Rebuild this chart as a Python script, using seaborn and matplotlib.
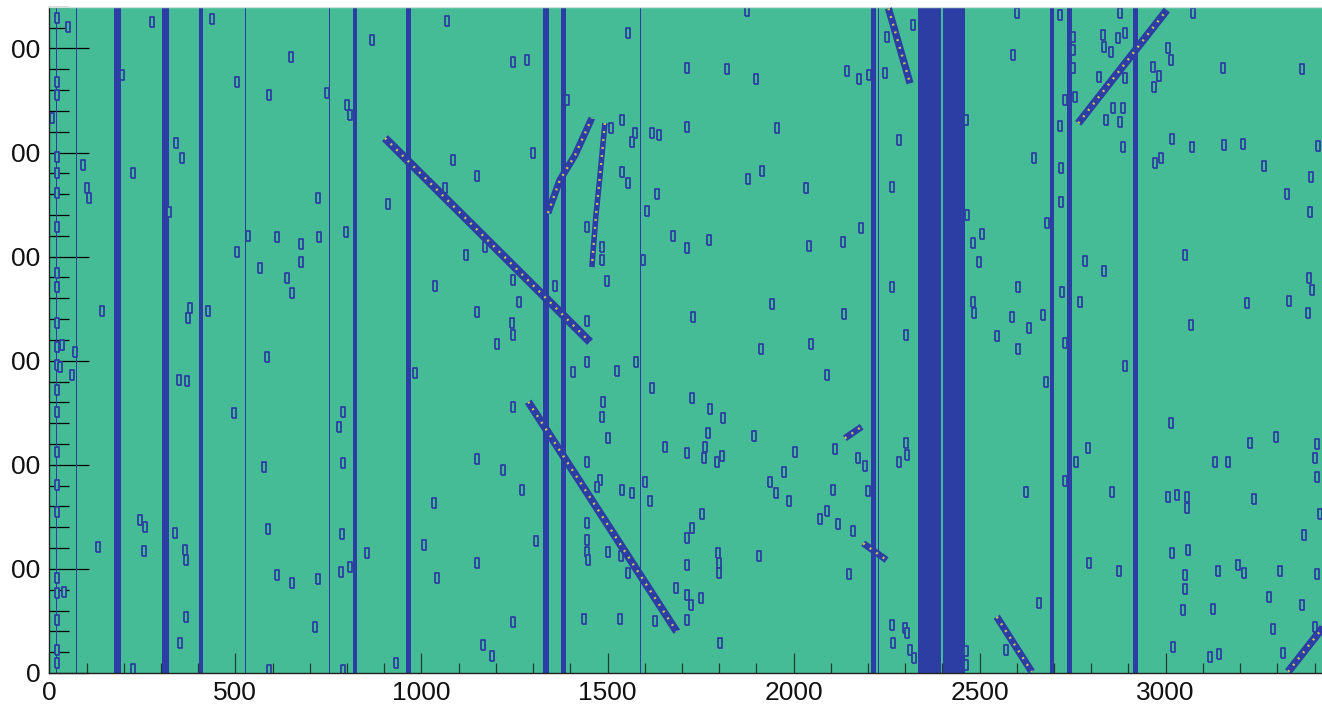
import matplotlib
matplotlib.use("Agg")
import matplotlib.pyplot as plt
from matplotlib.markers import MarkerStyle
from matplotlib.ticker import MultipleLocator, FixedLocator, FixedFormatter
import seaborn as sns

# ---------------- event display data (wire, time tick) ----------------
wire_max = 3456
tick_max = 6400

x_ticks = [0, 500, 1000, 1500, 2000, 2500, 3000]
x_labels = ["0", "500", "1000", "1500", "2000", "2500", "3000"]
y_ticks = [0, 1000, 2000, 3000, 4000, 5000, 6000]
y_labels = ["0", "00", "00", "00", "00", "00", "00"]

# dead / noisy wire ranges (first wire, last wire)
band_lo = [19, 71, 174, 304, 401, 525, 752, 817, 958, 1327, 1374, 1587,
           2207, 2226, 2334, 2401, 2689, 2734, 2911]
band_hi = [22, 74, 192, 321, 414, 528, 755, 828, 971, 1343, 1388, 1590,
           2221, 2229, 2395, 2461, 2700, 2747, 2926]

# hits on the noisy wire
noisy_wire = 20
noisy_ticks = [6292, 5677, 5552, 4957, 4803, 4611, 4284, 3842, 3708, 3362,
               3134, 2959, 2718, 2510, 2126, 1806, 1549, 910, 766, 509, 221, 93]

# isolated hits
hit_wire = [
    51, 275, 436, 195, 504, 649, 591, 747, 801, 808, 866, 1068, 340, 356, 90,
    226, 102, 107, 322, 723, 911, 1084, 1063, 535, 504, 611, 676, 726, 797,
    566, 676, 640, 652, 1036, 141, 378, 374, 427, 6,
    35, 68, 29, 61, 584, 349, 369, 983, 497, 790, 778, 578, 788, 1035, 244,
    257, 338, 132, 255, 365, 366, 588, 787, 853, 1008, 1041, 611, 652, 721,
    784, 808, 40, 366, 351, 714, 226, 591, 788, 932,
    1247, 1284, 1556, 1876, 1714, 1820, 1898, 2144, 2175, 2204, 2246, 2250,
    1390, 1301, 1150, 1538, 1509, 1574, 1567, 1620, 1639, 1714, 1955, 1538,
    1556, 1632, 1605, 1878, 1914, 2033, 1677, 1714, 1774, 2042, 2134, 2181,
    1484, 1484, 1444, 1596, 1499, 1120, 1171, 1247, 1359, 1262, 1149, 1244,
    1247, 1444, 1729, 1941, 2136,
    1202, 1444, 1408, 1526, 1577, 1619, 1912, 2047, 2089, 1726, 1775, 1811,
    1247, 1489, 1486, 1502, 1771, 1894, 1655, 1714, 1762, 1759, 1793, 1807,
    2004, 2111, 2174, 2192, 1975, 1937, 1953, 1989, 2105, 2201, 1149, 1220,
    1269, 1444, 1480, 1471, 1538, 1565, 1601, 1614, 1753, 1726, 1713, 2071,
    2091, 2119, 2161, 1444, 1444, 1446, 1447, 1502, 1535, 1556, 1308, 1149,
    1714, 1796, 1800, 1800, 1908, 2150, 1684, 1714, 1724, 1751, 1714, 1628,
    1534, 1438, 1247, 1166, 1189, 1802,
    2322, 2600, 2590, 2463, 2716, 2877, 3074, 2750, 2752, 2752, 2831, 2834,
    2873, 2891, 2853, 2821, 2891, 2729, 2756, 2859, 2884, 2839, 2877, 2716,
    2884, 3007, 3014, 2967, 2983, 2969, 3155, 3365, 2283, 2264, 2647, 2719,
    2719, 3016, 3070, 3157, 3209, 3410, 2971, 2987, 3264, 3390, 3327, 3388,
    2467, 2506, 2481, 2499, 2682, 2783, 2834, 3052, 2264, 2604, 2722, 2770,
    2483, 2485, 2586, 2671, 2633, 3386, 3392, 3218, 3332, 3383, 3067, 2301,
    2546, 2604, 2729, 2891, 2678, 3013, 3227, 3296, 3407, 3401, 3406, 3132,
    3167, 2301, 2306, 2283, 2792, 2759, 2729, 2624, 2855, 3007, 3030, 3058,
    3058, 3238, 3415, 3372, 3016, 3061, 2795, 2875, 3052, 3052, 3141, 3195,
    3211, 3307, 3406, 3278, 3367, 3047, 3126, 2660, 2264, 2299, 2304, 2268,
    2313, 2324, 2463, 2463, 2571, 3020, 3119, 3144, 3288, 3316, 3401,
]
hit_tick = [
    6208, 6256, 6279, 5744, 5680, 5914, 5552, 5574, 5456, 5360, 6081, 6266,
    5088, 4944, 4880, 4806, 4656, 4560, 4431, 4560, 4505, 4928, 4656, 4198,
    4047, 4185, 4121, 4185, 4239, 3888, 3951, 3792, 3647, 3718, 3480, 3503,
    3407, 3480, 5331,
    3151, 3086, 2942, 2863, 3038, 2815, 2808, 2885, 2500, 2510, 2366, 1982,
    2014, 1630, 1470, 1405, 1342, 1213, 1172, 1182, 1085, 1383, 1332, 1156,
    1230, 910, 941, 862, 903, 967, 1021, 781, 541, 285, 439, 36, 29, 29, 93,
    5872, 5888, 6145, 6362, 5809, 5802, 5703, 5786, 5703, 5744, 5767, 6112,
    5504, 4992, 4774, 5312, 5238, 5184, 5104, 5190, 5168, 5242, 5238, 4815,
    4704, 4598, 4441, 4745, 4825, 4662, 4201, 4080, 4159, 4105, 4137, 4278,
    4095, 3967, 4287, 3967, 3766, 4015, 4095, 3775, 3718, 3567, 3465, 3359,
    3247, 3381, 3423, 3545, 3449,
    3160, 2990, 2894, 2901, 2985, 2735, 3109, 3160, 2863, 2639, 2536, 2447,
    2558, 2606, 2462, 2260, 2308, 2280, 2174, 2116, 2174, 2062, 2030, 2085,
    2126, 2152, 2062, 1988, 1934, 1838, 1726, 1655, 1758, 1748, 2053, 1950,
    1758, 2030, 1854, 1790, 1758, 1726, 1838, 1655, 1527, 1396, 1300, 1479,
    1559, 1428, 1367, 1444, 1278, 1165, 1085, 1165, 1124, 963, 1271, 1060,
    1037, 1156, 1054, 958, 1124, 951, 814, 749, 653, 718, 509, 502,
    516, 516, 487, 269, 163, 291,
    6225, 6337, 5937, 5312, 6321, 6337, 6337, 6112, 5985, 5809, 6129, 6016,
    6097, 6151, 5968, 5722, 5713, 5504, 5536, 5424, 5424, 5312, 5296, 5254,
    5056, 6001, 5888, 5824, 5735, 5632, 5809, 5802, 5120, 4671, 4944, 4848,
    4527, 5127, 5056, 5072, 5079, 5062, 4896, 4944, 4873, 4767, 4598, 4425,
    4400, 4214, 4128, 3945, 4320, 3958, 3862, 4015, 3711, 3711, 3657, 3561,
    3567, 3455, 3423, 3439, 3311, 3792, 3679, 3551, 3573, 3455, 3343, 3247,
    3237, 3109, 3173, 2949, 2798, 2399, 2207, 2270, 2200, 2062, 1886, 2024,
    2024, 2207, 2094, 2030, 2158, 2030, 1847, 1742, 1742, 1694, 1710, 1694,
    1582, 1669, 1527, 1326, 1156, 1182, 1054, 983, 941, 804, 983, 1037,
    963, 983, 948, 727, 653, 605, 612, 675, 461, 429, 381, 285,
    221, 141, 214, 77, 221, 247, 157, 183, 423, 189, 445,
]

# reconstructed tracks (polylines in wire / tick)
track_a_wire = [902, 1453]
track_a_tick = [5139, 3180]
track_b_wire = [1287, 1686]
track_b_tick = [2606, 397]
track_c_wire = [1340, 1372, 1413, 1458]
track_c_tick = [4419, 4736, 4976, 5331]
track_d_wire = [1493, 1480, 1469, 1458]
track_d_tick = [5283, 4784, 4400, 3900]
track_e_wire = [2255, 2313]
track_e_tick = [6385, 5665]
track_f_wire = [2765, 3003]
track_f_tick = [5281, 6369]
track_g_wire = [2546, 2640]
track_g_tick = [541, 12]
track_h_wire = [3329, 3456]
track_h_tick = [12, 590]
track_i_wire = [2138, 2183]
track_i_tick = [2255, 2366]
track_j_wire = [2187, 2250]
track_j_tick = [1246, 1085]

tracks = [
    (track_a_wire, track_a_tick, 6.0),
    (track_b_wire, track_b_tick, 5.6),
    (track_c_wire, track_c_tick, 5.0),
    (track_d_wire, track_d_tick, 4.0),
    (track_e_wire, track_e_tick, 5.2),
    (track_f_wire, track_f_tick, 5.6),
    (track_g_wire, track_g_tick, 5.2),
    (track_h_wire, track_h_tick, 5.6),
    (track_i_wire, track_i_tick, 4.8),
    (track_j_wire, track_j_tick, 4.8),
]

# ---------------- styling ----------------
BG = "#46BC96"
BLUE = "#2C3EA3"
PEAK = "#D0C75A"

sns.set_style("ticks")
plt.rcParams["font.family"] = ["Liberation Sans", "DejaVu Sans"]

W, H = 1322, 705
fig = plt.figure(figsize=(W / 100, H / 100), dpi=100)
left_px, right_px, top_px, bottom_px = 49.3, 1335.4, 6.8, 673.0
ax = fig.add_axes([left_px / W, (H - bottom_px) / H,
                   (right_px - left_px) / W, (bottom_px - top_px) / H])
ax.set_facecolor(BG)
ax.set_xlim(0, wire_max)
ax.set_ylim(0, tick_max)

for lo, hi in zip(band_lo, band_hi):
    ax.axvspan(lo, hi, color=BLUE, lw=0, zorder=1)

rect = MarkerStyle([(-0.25, -0.5), (0.25, -0.5), (0.25, 0.5), (-0.25, 0.5), (-0.25, -0.5)])

sns.scatterplot(x=[noisy_wire] * len(noisy_ticks), y=noisy_ticks, marker=rect,
                s=44, color=BG, edgecolor=BLUE, linewidth=1.3, ax=ax, zorder=2,
                legend=False)
sns.scatterplot(x=hit_wire, y=hit_tick, marker=rect, s=48, color=BG,
                edgecolor=BLUE, linewidth=1.3, ax=ax, zorder=2, legend=False)

for tw, tt, lw in tracks:
    sns.lineplot(x=tw, y=tt, sort=False, estimator=None, color=BLUE, lw=lw,
                 solid_capstyle="butt", ax=ax, zorder=3)
    ax.plot(tw, tt, color=PEAK, lw=1.7, linestyle=(0, (0.8, 2.6)), zorder=4)

# axes, ticks and labels
ax.xaxis.set_major_locator(FixedLocator(x_ticks))
ax.xaxis.set_major_formatter(FixedFormatter(x_labels))
ax.yaxis.set_major_locator(FixedLocator(y_ticks))
ax.yaxis.set_major_formatter(FixedFormatter(y_labels))
ax.xaxis.set_minor_locator(MultipleLocator(100))
ax.yaxis.set_minor_locator(MultipleLocator(200))

ax.tick_params(axis="y", which="major", direction="in", length=28.8, width=0.9,
               color="black", pad=6.5, labelsize=19, labelcolor="#111111")
ax.tick_params(axis="y", which="minor", direction="in", length=14.4, width=0.9,
               color="black")
ax.tick_params(axis="x", which="major", direction="in", length=14.4, width=0.9,
               color="#1f3d2e", pad=6, labelsize=19, labelcolor="#111111")
ax.tick_params(axis="x", which="minor", direction="in", length=7.2, width=0.9,
               color="#1f3d2e")

for side in ("left", "bottom"):
    ax.spines[side].set_color("#222222")
    ax.spines[side].set_linewidth(1.0)
ax.spines["top"].set_color("#cfe3da")
ax.spines["top"].set_linewidth(1.0)
ax.spines["right"].set_visible(False)
ax.set_xlabel("")
ax.set_ylabel("")

fig.savefig("out.png", dpi=100, facecolor="white")
